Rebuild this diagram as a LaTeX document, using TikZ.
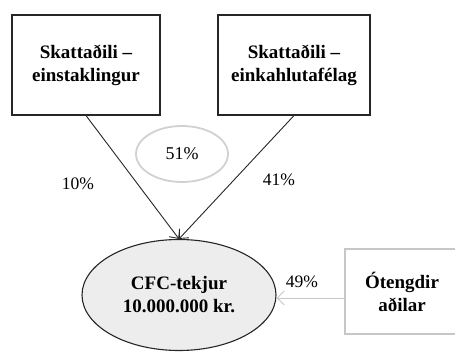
\documentclass[tikz,border=0pt]{standalone}
\usepackage{fontspec}
\setmainfont{Liberation Serif}
\usetikzlibrary{arrows.meta,shapes.geometric}
\begin{document}
\begin{tikzpicture}[x=1pt,y=-1pt,
  boxtext/.style={font=\fontsize{19}{23}\selectfont\bfseries, align=center},
  pct/.style={font=\fontsize{17.5}{20}\selectfont},
  darkbox/.style={draw=black!85, line width=1.1pt, boxtext, inner sep=0pt},
  lightbox/.style={draw=black!22, line width=1.1pt, boxtext, inner sep=0pt},
  conn/.style={draw=black!85, line width=0.9pt, -{Straight Barb[length=7pt,width=13pt,line width=0.9pt]}},
  lightconn/.style={draw=black!22, line width=1pt, -{Straight Barb[length=7pt,width=14pt,line width=1pt]}}
]
\clip (0,0) rectangle (455,351);
\useasboundingbox (0,0) rectangle (455,351);
\node[darkbox, minimum width=148pt, minimum height=100pt] (ind) at (86,65) {Skattaðili –\\einstaklingur};
\node[darkbox, minimum width=152pt, minimum height=100pt] (ehf) at (294,65) {Skattaðili –\\einkahlutafélag};
\node[ellipse, draw=black!85, fill=black!7, line width=1.1pt, minimum width=194pt, minimum height=111pt, inner sep=0pt, boxtext] (cfc) at (179,295) {CFC-tekjur\\10.000.000 kr.};
\node[lightbox, minimum width=114pt, minimum height=85pt] (ot) at (402,291.5) {Ótengdir\\aðilar};
\node[ellipse, draw=black!18, line width=1.8pt, minimum width=92pt, minimum height=56pt, inner sep=0pt, font=\fontsize{18}{20}\selectfont] (p51) at (182,154) {51\%};
\node[pct] (p10) at (78,184) {10\%};
\node[pct] (p41) at (279,180) {41\%};
\node[pct] (p49) at (302,282) {49\%};
\draw[conn] (ind.south) -- (cfc.north);
\draw[conn] (ehf.south) -- (cfc.north);
\coordinate (a) at (ot.west |- 0,298);
\coordinate (b) at (cfc.east |- 0,298);
\draw[lightconn] (a) -- (b);
\end{tikzpicture}
\end{document}
